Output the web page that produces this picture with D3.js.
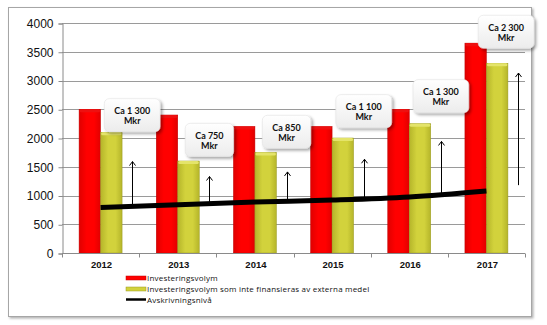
<!DOCTYPE html>
<html>
<head>
<meta charset="utf-8">
<script src="https://cdn.jsdelivr.net/npm/d3@7"></script>
<style>
  html, body { margin: 0; padding: 0; background: #fff; }
  svg { display: block; }
</style>
</head>
<body>
<svg id="chart" width="547" height="325"></svg>
<script>
// ---- Data ----
const years = ["2012", "2013", "2014", "2015", "2016", "2017"];
const investeringsvolym = [2500, 2400, 2200, 2200, 2500, 3650];
const ejExternaMedel = [2100, 1600, 1750, 2000, 2250, 3300];
const avskrivningsniva = [790, 840, 885, 920, 975, 1080];
const yTicks = [0, 500, 1000, 1500, 2000, 2500, 3000, 3500, 4000];
const annotLabels = ["Ca 1 300", "Ca 750", "Ca 850", "Ca 1 100", "Ca 1 300", "Ca 2 300"];
const annotUnit = "Mkr";
const annotCenterValues = [2380, 1950, 2090, 2450, 2710, 3830];
const arrowTopValues = [1590, 1330, 1410, 1630, 1940, 3130];
const arrowBaseValues = [835, 875, 930, 920, 1010, 1180];
const legendLabels = [
  "Investeringsvolym",
  "Investeringsvolym som inte finansieras av externa medel",
  "Avskrivningsnivå"
];

// ---- Layout ----
const svg = d3.select("#chart");
const plot = { left: 62, right: 525, top: 23, bottom: 253 };

const defs = svg.append("defs");
const shadow = defs.append("filter").attr("id", "shadow")
  .attr("x", "-20%").attr("y", "-20%").attr("width", "150%").attr("height", "160%");
shadow.append("feDropShadow").attr("dx", 2).attr("dy", 2).attr("stdDeviation", 1.6)
  .attr("flood-color", "#000").attr("flood-opacity", 0.35);

const frameShadow = defs.append("filter").attr("id", "frameShadow")
  .attr("x", "-5%").attr("y", "-5%").attr("width", "110%").attr("height", "110%");
frameShadow.append("feDropShadow").attr("dx", 1.5).attr("dy", 1.5).attr("stdDeviation", 1)
  .attr("flood-color", "#000").attr("flood-opacity", 0.3);

function hGrad(id, edge, mid) {
  const g = defs.append("linearGradient").attr("id", id)
    .attr("x1", "0%").attr("x2", "100%").attr("y1", "0%").attr("y2", "0%");
  g.append("stop").attr("offset", "0%").attr("stop-color", edge);
  g.append("stop").attr("offset", "35%").attr("stop-color", mid);
  g.append("stop").attr("offset", "70%").attr("stop-color", mid);
  g.append("stop").attr("offset", "100%").attr("stop-color", edge);
}
hGrad("gRed", "#e00000", "#ff0000");
hGrad("gYel", "#b5b52a", "#d2d23c");

const boxGrad = defs.append("linearGradient").attr("id", "gBox")
  .attr("x1", "0%").attr("x2", "0%").attr("y1", "0%").attr("y2", "100%");
boxGrad.append("stop").attr("offset", "0%").attr("stop-color", "#ffffff");
boxGrad.append("stop").attr("offset", "100%").attr("stop-color", "#ececec");

// Outer frame
svg.append("rect")
  .attr("x", 8.5).attr("y", 7.5).attr("width", 523).attr("height", 309)
  .attr("fill", "#fff").attr("stroke", "#a6a6a6").attr("stroke-width", 1)
  .attr("filter", "url(#frameShadow)");

const x = d3.scaleBand().domain(years).range([plot.left, plot.right])
  .paddingInner(0.443).paddingOuter(0.2215);
const xs = d3.scaleBand().domain(["a", "b"]).range([0, x.bandwidth()]);
const y = d3.scaleLinear().domain([0, 4000]).range([plot.bottom, plot.top]);
const step = x.step();
const cx = d => x(d) + x.bandwidth() / 2;

// Gridlines
svg.append("g").selectAll("line").data(yTicks.filter(t => t > 0)).join("line")
  .attr("x1", plot.left).attr("x2", plot.right)
  .attr("y1", d => Math.round(y(d)) + 0.5).attr("y2", d => Math.round(y(d)) + 0.5)
  .attr("stroke", "#9a9a9a").attr("stroke-width", 1);

// Y axis
const yAxis = svg.append("g")
  .attr("transform", `translate(${plot.left + 0.5},0.5)`)
  .call(d3.axisLeft(y).tickValues(yTicks).tickSize(4).tickPadding(5).tickFormat(d3.format("d")));
yAxis.select(".domain").attr("stroke", "#8a8a8a");
yAxis.selectAll(".tick line").attr("stroke", "#8a8a8a");
yAxis.selectAll("text").attr("font-family", "Liberation Sans, Arial, sans-serif")
  .attr("font-size", 12).attr("fill", "#111");

// Bars
const series = [
  { key: "a", values: investeringsvolym, fill: "url(#gRed)", cap: "#ee1010", stroke: "#c00000" },
  { key: "b", values: ejExternaMedel, fill: "url(#gYel)", cap: "#e4e46a", stroke: "#9a9a20" }
];
series.forEach(s => {
  const g = svg.append("g");
  g.selectAll("rect.bar").data(years).join("rect").attr("class", "bar")
    .attr("x", d => x(d) + xs(s.key))
    .attr("width", xs.bandwidth())
    .attr("y", (d, i) => y(s.values[i]))
    .attr("height", (d, i) => y(0) - y(s.values[i]))
    .attr("fill", s.fill)
    .attr("stroke", s.stroke).attr("stroke-width", 0.5);
  g.selectAll("rect.cap").data(years).join("rect").attr("class", "cap")
    .attr("x", d => x(d) + xs(s.key) + 0.5)
    .attr("width", xs.bandwidth() - 1)
    .attr("y", (d, i) => y(s.values[i]))
    .attr("height", 3)
    .attr("rx", 1.5)
    .attr("fill", s.cap);
});

// X axis
const xAxis = svg.append("g").attr("transform", `translate(0,${plot.bottom + 0.5})`);
xAxis.append("line").attr("x1", plot.left).attr("x2", plot.right)
  .attr("stroke", "#8a8a8a");
xAxis.selectAll("line.tk").data(d3.range(years.length + 1)).join("line").attr("class", "tk")
  .attr("x1", i => Math.round(plot.left + i * step) + 0.5)
  .attr("x2", i => Math.round(plot.left + i * step) + 0.5)
  .attr("y1", 0).attr("y2", 4).attr("stroke", "#8a8a8a");
xAxis.selectAll("text").data(years).join("text")
  .attr("x", d => cx(d) + 1).attr("y", 14)
  .attr("text-anchor", "middle")
  .attr("font-family", "Liberation Sans, Arial, sans-serif")
  .attr("font-weight", "bold").attr("font-size", 9.5).attr("fill", "#111")
  .text(d => d);

// Avskrivningsnivå line
const line = d3.line()
  .x((d, i) => cx(years[i]))
  .y(d => y(d))
  .curve(d3.curveMonotoneX);
svg.append("path").datum(avskrivningsniva)
  .attr("d", line).attr("fill", "none")
  .attr("stroke", "#000").attr("stroke-width", 5);

// Arrows
const ax = d => cx(d) + step * 0.41;
const arrows = svg.append("g").attr("stroke", "#000").attr("stroke-width", 1).attr("fill", "none");
years.forEach((d, i) => {
  const X = Math.round(ax(d)) + 0.5;
  const yt = y(arrowTopValues[i]);
  arrows.append("line").attr("x1", X).attr("x2", X)
    .attr("y1", y(arrowBaseValues[i])).attr("y2", yt);
  arrows.append("path")
    .attr("d", `M${X - 3},${yt + 4} L${X},${yt} L${X + 3},${yt + 4}`);
});

// Annotation boxes
const annot = svg.append("g");
years.forEach((d, i) => {
  const g = annot.append("g");
  const cyv = y(annotCenterValues[i]);
  const t1 = g.append("text").attr("text-anchor", "middle")
    .attr("font-family", "Lato, sans-serif").attr("font-weight", "bold")
    .attr("font-size", 9).attr("fill", "#111")
    .text(annotLabels[i]);
  const w = t1.node().getComputedTextLength() + 20;
  const h = 33;
  let bx = ax(d);
  const maxRight = 534;
  if (bx + w / 2 > maxRight) bx = maxRight - w / 2;
  g.insert("rect", "text")
    .attr("x", bx - w / 2).attr("y", cyv - h / 2 - 1)
    .attr("width", w).attr("height", h)
    .attr("rx", 5)
    .attr("fill", "url(#gBox)").attr("stroke", "#e2e2e2").attr("stroke-width", 0.6)
    .attr("filter", "url(#shadow)");
  t1.attr("x", bx).attr("y", cyv - 2);
  g.append("text").attr("text-anchor", "middle")
    .attr("font-family", "Lato, sans-serif").attr("font-weight", "bold")
    .attr("font-size", 9).attr("fill", "#111")
    .attr("x", bx).attr("y", cyv + 8)
    .text(annotUnit);
});

// Legend
const legend = svg.append("g").attr("transform", "translate(126,0)");
const legendRows = [278, 289, 299.5];
legendLabels.forEach((lab, i) => {
  const yy = legendRows[i];
  if (i < 2) {
    legend.append("rect").attr("x", 0).attr("y", yy - 2).attr("width", 20).attr("height", 4)
      .attr("fill", i === 0 ? "#ff0000" : "#d2d23c")
      .attr("stroke", i === 0 ? "#c00000" : "#9a9a20").attr("stroke-width", 0.5);
  } else {
    legend.append("line").attr("x1", 0).attr("x2", 20).attr("y1", yy).attr("y2", yy)
      .attr("stroke", "#000").attr("stroke-width", 2.5);
  }
  legend.append("text").attr("x", 21).attr("y", yy + 3)
    .attr("font-family", "Open Sans, sans-serif").attr("font-size", 8)
    .attr("letter-spacing", 0.2)
    .attr("fill", "#111").text(lab);
});
</script>
</body>
</html>
